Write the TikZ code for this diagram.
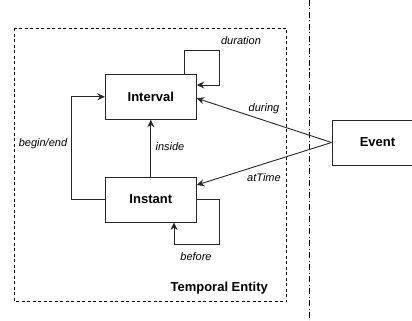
\documentclass[tikz,border=0pt]{standalone}
\usepackage{fontspec}
\setmainfont{Liberation Sans}
\usepackage{tikz}
\usetikzlibrary{positioning,arrows,arrows.meta,calc}
\tikzset{
    x=1pt,
    y=-1pt,
    block/.style = {
        draw=black!85,
        shape=rectangle,
        minimum height=45pt,
        minimum width=91pt,
        line width=0.9pt,
        font=\fontsize{13}{15}\selectfont\bfseries
    },
    lbl/.style = {
        shape=rectangle,
        inner sep=0pt,
        font=\fontsize{11}{13}\selectfont\itshape
    },
    edge/.style = {
        draw=black!85,
        line width=0.9pt
    },
    >={Stealth[length=7.5pt,width=7pt,inset=2.5pt]},
}
\begin{document}
\begin{tikzpicture}
            \clip (0,0) rectangle (412,321);
            \path[draw, dashed, line width=0.9pt, dash pattern=on 3pt off 2.5pt] (14.7,28.3) rectangle (286.7,301.7);
            \path[draw, line width=0.9pt, dash pattern=on 6pt off 2.5pt on 1pt off 2.5pt] (309.3,0) -- (309.3,321);

            \node[block] (interval) at (150.8,96.8) {Interval};
            \node[block] (instant) at (150.8,199.5) {Instant};
            \node[block] (event) at (377.5,142.5) {Event};
            \node[lbl, font=\fontsize{13}{15}\selectfont\bfseries] (entity) at (219.2,288.3) {Temporal Entity};

            \node[lbl] (duration) at (241,40.7) {duration};
            \node[lbl] (inside) at (170,146.7) {inside};
            \node[lbl] (beginend) at (43,143.3) {begin/end};
            \node[lbl] (before) at (196,256.7) {before};
            \node[lbl] (during) at (264,109) {during};
            \node[lbl] (attime) at (264,177.3) {atTime};

            \coordinate (durcorner) at (219.3,50.7);
            \coordinate (befcorner) at (219.3,244);

            \path[edge, ->] ($(interval.north east)+(-12.3,0)$) |- (durcorner) |- ($(interval.east)+(0,-11.8)$);
            \path[edge, ->] (instant.east) -| (befcorner) -| ($(instant.south)+(23.2,0)$);
            \path[edge, ->] (instant.west) -| ($(interval.west)+(-33.6,0)$) -- (interval.west);
            \path[edge, ->] (instant.north) -- (interval.south);
            \path[edge, ->] (event.west) -- ($(interval.east)+(0,1.5)$);
            \path[edge, ->] (event.west) -- ($(instant.east)+(0,-14.5)$);
        \end{tikzpicture}
\end{document}
